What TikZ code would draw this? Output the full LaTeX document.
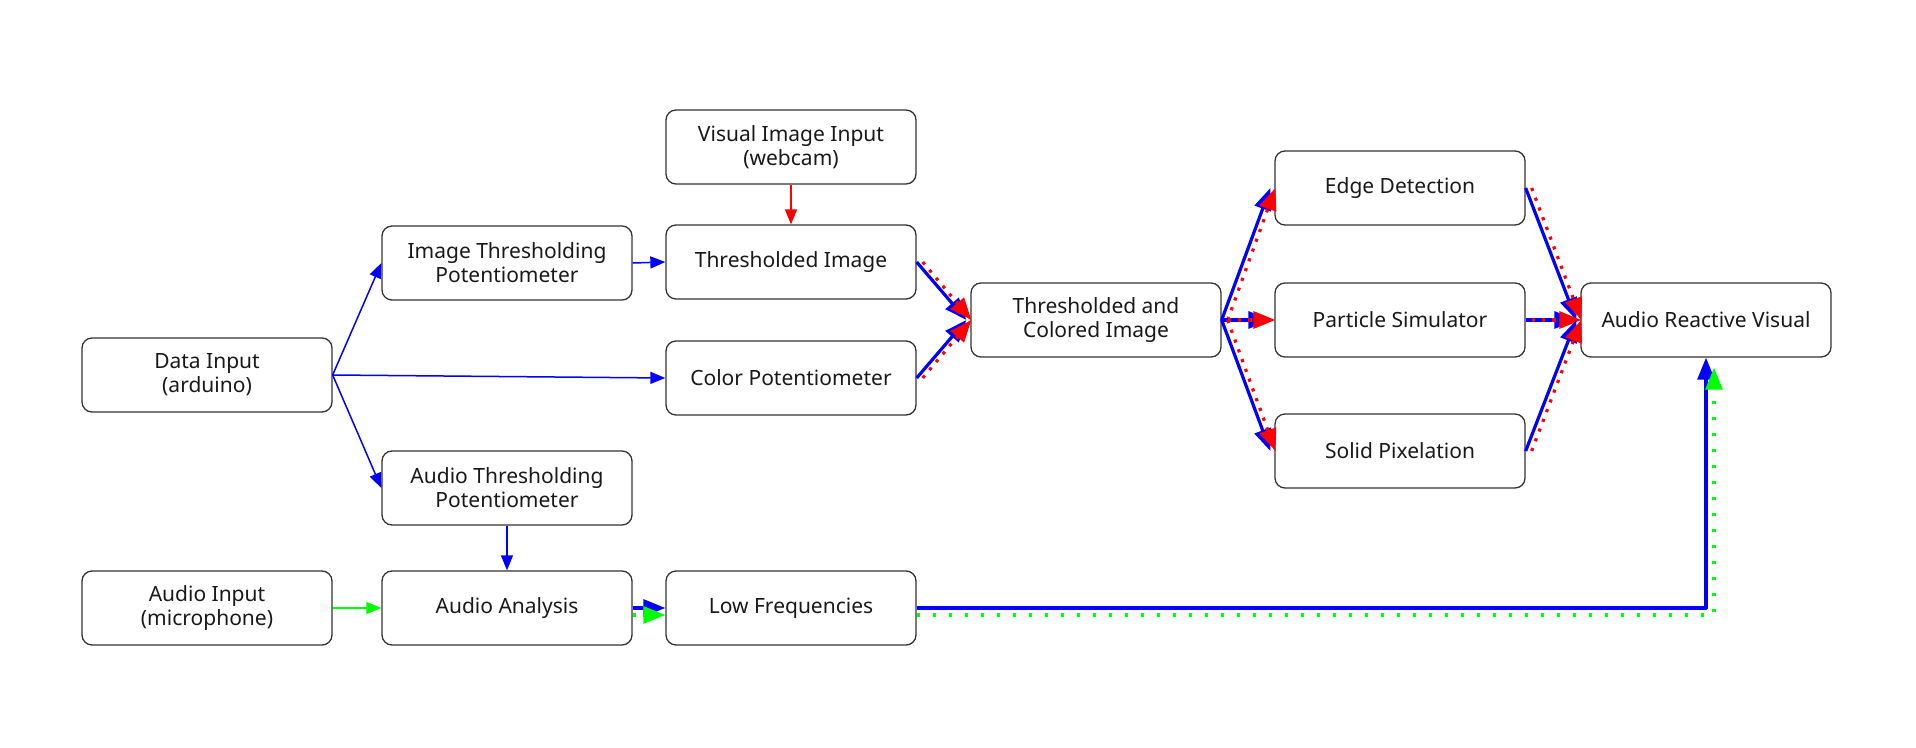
\documentclass[tikz,border=0pt]{standalone}
\usepackage{fontspec}
\setmainfont{Noto Sans}
\usetikzlibrary{arrows.meta,calc}

\begin{document}
\begin{tikzpicture}[x=0.5pt,y=-0.5pt,line join=round,
    box/.style={draw=black!80,line width=0.65pt,rounded corners=5pt,
        minimum width=125pt,minimum height=37pt,inner sep=0pt,align=center,
        text=black!90,font=\fontsize{10.5}{12}\selectfont},
    wire/.style={line width=0.75pt,-{Triangle[length=7.5pt,width=6pt]}},
    flow/.style={line width=1.6pt,-{Triangle[length=11pt,width=8.5pt]}},
    dots/.style={line width=1.6pt,line cap=butt,dash pattern=on 1.6pt off 3.6pt,
        -{Triangle[length=11pt,width=8.5pt]}}]
\useasboundingbox (0,0) rectangle (1916,748);

% inputs and potentiometers
\node[box] (webcam) at (791,147) {Visual Image Input\\(webcam)};
\node[box] (imgpot) at (507,263) {Image Thresholding\\Potentiometer};
\node[box] (thimg) at (791,262) {Thresholded Image};
\node[box] (data) at (207,375) {Data Input\\(arduino)};
\node[box] (colpot) at (791,378) {Color Potentiometer};
\node[box] (audpot) at (507,488) {Audio Thresholding\\Potentiometer};
\node[box] (audin) at (207,608) {Audio Input\\(microphone)};
\node[box] (audana) at (507,608) {Audio Analysis};
\node[box] (lowfreq) at (791,608) {Low Frequencies};

% processing
\node[box] (thcol) at (1096,320) {Thresholded and\\Colored Image};
\node[box] (edge) at (1400,188) {Edge Detection};
\node[box] (part) at (1400,320) {Particle Simulator};
\node[box] (solid) at (1400,451) {Solid Pixelation};
\node[box] (arv) at (1706,320) {Audio Reactive Visual};

% control lines
\foreach \t in {imgpot,colpot,audpot}
\draw[wire,blue] (data.east) -- (\t.west);
\draw[wire,blue] (imgpot.east) -- (thimg.west);
\draw[wire,red] (webcam) -- (thimg);
\draw[wire,blue] (audpot) -- (audana);
\draw[wire,green] (audin) -- (audana);

% image path
\foreach \s in {thimg,colpot}
{
    \draw[flow,blue] (\s.east) -- ([xshift=-2pt]thcol.west);
    \draw[dots,red] ([xshift=3pt]\s.east) -- ([xshift=0.5pt]thcol.west);
};
\foreach \t in {edge,part,solid}
{
    \draw[flow,blue] (thcol.east) -- ([xshift=-2pt]\t.west);
    \draw[dots,red] ([xshift=3pt]thcol.east) -- ([xshift=0.5pt]\t.west);
    \draw[flow,blue] (\t.east) -- ([xshift=-2pt]arv.west);
    \draw[dots,red] ([xshift=3pt]\t.east) -- ([xshift=0.5pt]arv.west);
};

% audio path
\draw[flow,blue] (audana.east) -- (lowfreq.west);
\draw[dots,green,dash pattern=on 1.7pt off 6.3pt] ([yshift=-3.5pt]audana.east) -- ([yshift=-3.5pt]lowfreq.west);
\draw[flow,blue] (lowfreq.east) -| (arv.south);
\draw[dots,green,dash pattern=on 1.7pt off 6.3pt] ([yshift=-3.5pt]lowfreq.east) -| ([xshift=4pt,yshift=-5pt]arv.south);
\end{tikzpicture}
\end{document}
